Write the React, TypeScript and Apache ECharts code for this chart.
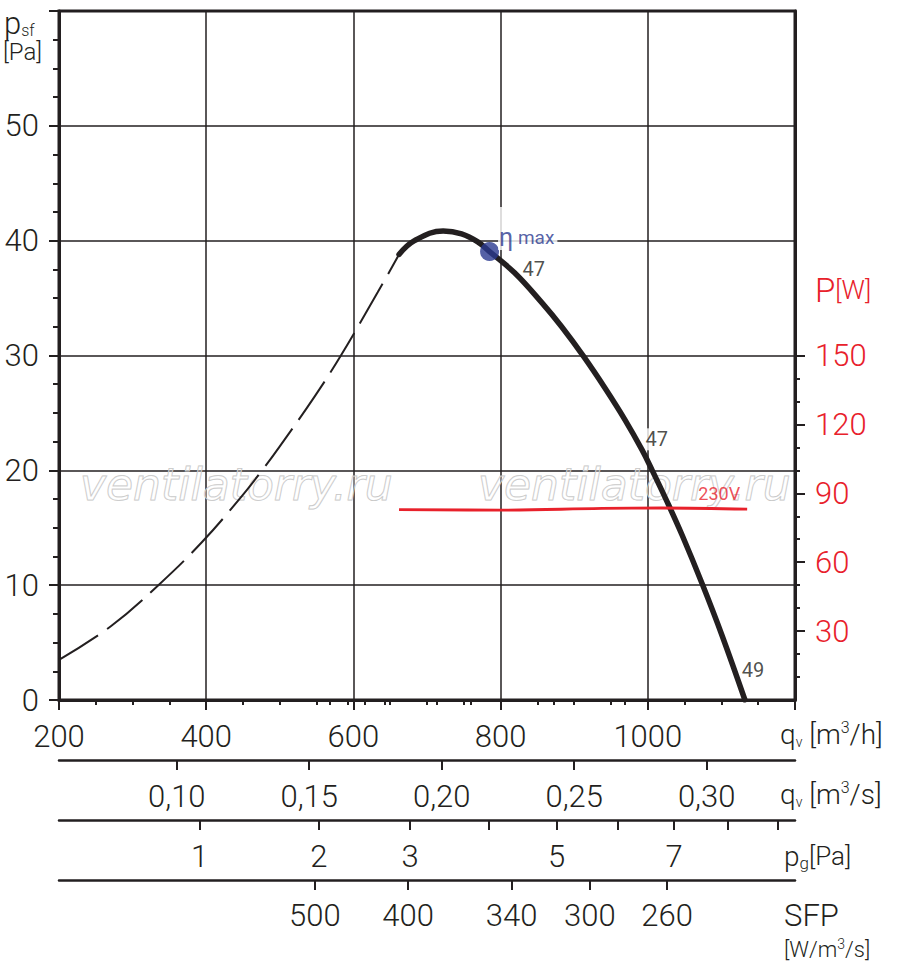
import React, { useEffect, useRef } from "react";
import * as echarts from "echarts";

const INK = "#231f20";
const RED = "#e8212b";
const BLUE = "#2b3990";
const FONT = "Roboto, 'DejaVu Sans', sans-serif";
const WEIGHT = 300;

// flow range of the chart, m3/h
const Q_MIN = 200;
const Q_MAX = 1200;

// static pressure curve, unstable part (dashed): [qv m3/h, psf Pa]
const unstableCurve = [
  [200, 3.5], [270, 6.4], [335, 10], [395, 13.8], [449, 17.8], [476, 20],
  [499, 22], [547, 26.4], [583, 30], [633, 35.5], [662, 38.8],
];
// static pressure curve, working part (solid)
const workingCurve = [
  [662, 38.8], [683, 40.0], [722, 40.85], [747, 40.6], [769, 39.9], [785, 39.05],
  [819, 37.2], [856, 34.6], [883, 32.5], [913, 29.9], [942, 27.15], [969, 24.4],
  [992, 21.8], [1006, 20.0], [1026, 17.3], [1047, 14.3], [1074, 10.1], [1101, 5.6],
  [1132, 0],
];
// input power at 230V: [qv m3/h, P W]
const powerCurve = [[662, 82.9], [801, 82.7], [938, 83.4], [1019, 83.6], [1135, 83.1]];
// max efficiency point
const etaMaxPoint = [785, 39.05];
// efficiency / noise labels along the curve
const curveLabels = [
  { q: 845, p: 37.5, text: "47" },
  { q: 1012, p: 22.7, text: "47" },
  { q: 1143, p: 2.6, text: "49" },
];
const voltageLabel = { q: 1097, P: 90, text: "230V" };

// axis labels / ticks
const qhLabels = [200, 400, 600, 800, 1000];
const psfLabels = [0, 10, 20, 30, 40, 50];
const powerLabels = [30, 60, 90, 120, 150];
const powerMinorTicks = [10, 20, 40, 50, 70, 80, 100, 110, 130, 140];
const qsLabels = [0.1, 0.15, 0.2, 0.25, 0.3];
const pgValues = [1, 2, 3, 4, 5, 6, 7, 8, 9];
const pgTickQ = [391, 553, 677, 783.5, 876, 959.4, 1035.7, 1108, 1176];
const pgLabelValues = [1, 2, 3, 5, 7];
const sfpMajor = [500, 400, 340, 300, 260];
const sfpMajorQ = [547.6, 674.4, 814.9, 921.2, 1026.2];
const sfpMinorQ = [568.1, 592.6, 615.8, 643.1, 712.6, 759, 872.2, 968.9];

const near = (a: number, b: number) => Math.abs(a - b) < 0.05;

function buildOption() {
  const tickStyle = { color: INK, width: 2 };
  const labelBase = { color: INK, fontSize: 31, fontFamily: FONT, fontWeight: WEIGHT, margin: 21 };
  const baseX: any = {
    type: "value",
    min: Q_MIN,
    max: Q_MAX,
    position: "bottom",
    splitLine: { show: false },
    axisLine: { show: true, onZero: false, lineStyle: { color: INK, width: 2.5 } },
  };
  const pgLabelQ = pgLabelValues.map((v) => pgTickQ[pgValues.indexOf(v)]);
  const txt = (size: number, fill: string, extra: any = {}) => ({
    fontSize: size,
    fontFamily: FONT,
    fontWeight: WEIGHT,
    fill,
    ...extra,
  });
  const watermark = (x: number) => ({
    type: "text",
    x,
    y: 484,
    z: 3,
    silent: true,
    style: {
      text: "ventilatorry.ru",
      fontSize: 44,
      fontStyle: "italic",
      fontFamily: "'DejaVu Sans', sans-serif",
      fill: "rgba(255,255,255,0.3)",
      stroke: "#c4c4c4",
      lineWidth: 1,
      verticalAlign: "middle",
      textVerticalAlign: "middle",
    },
  });
  const qvName = (y: number, unit: string) => ({
    type: "text",
    x: 780,
    y,
    z: 10,
    style: {
      text: `{q|q}{v|v}{t| [m}{s|3}{t|/${unit}]}`,
      verticalAlign: "middle",
      textVerticalAlign: "middle",
      rich: {
        q: txt(28, INK, { lineHeight: 30 }),
        v: txt(14, INK, { lineHeight: 14, verticalAlign: "bottom" }),
        t: txt(28, INK, { lineHeight: 30 }),
        s: txt(16, INK, { lineHeight: 16, verticalAlign: "top" }),
      },
    },
  });

  return {
    animation: false,
    backgroundColor: "#ffffff",
    grid: {
      left: 59,
      top: 11,
      right: 105,
      bottom: 270,
      show: true,
      borderColor: INK,
      borderWidth: 3,
      containLabel: false,
      outerBoundsMode: "none",
    },
    xAxis: [
      {
        ...baseX,
        interval: 200,
        axisLine: { show: true, onZero: false, lineStyle: { color: INK, width: 3 } },
        axisTick: { show: true, length: 10, lineStyle: tickStyle },
        minorTick: { show: true, splitNumber: 4, length: 5, lineStyle: tickStyle },
        splitLine: { show: true, lineStyle: { color: INK, width: 1.5 } },
        axisLabel: { ...labelBase, customValues: qhLabels, formatter: (v: number) => String(v) },
      },
      {
        ...baseX,
        offset: 60,
        axisTick: { show: true, length: 10, lineStyle: tickStyle, customValues: qsLabels.map((v) => v * 3600) },
        axisLabel: {
          ...labelBase,
          customValues: qsLabels.map((v) => v * 3600),
          formatter: (v: number) => (v / 3600).toFixed(2).replace(".", ","),
        },
      },
      {
        ...baseX,
        offset: 120,
        axisTick: { show: true, length: 10, lineStyle: tickStyle, customValues: pgTickQ },
        axisLabel: {
          ...labelBase,
          customValues: pgLabelQ,
          formatter: (v: number) => {
            const i = pgTickQ.findIndex((q) => near(q, v));
            return i >= 0 ? String(pgValues[i]) : "";
          },
        },
      },
      {
        ...baseX,
        offset: 180,
        axisTick: { show: true, length: 10, lineStyle: tickStyle, customValues: sfpMajorQ },
        axisLabel: {
          ...labelBase,
          margin: 20,
          customValues: sfpMajorQ,
          formatter: (v: number) => {
            const i = sfpMajorQ.findIndex((q) => near(q, v));
            return i >= 0 ? String(sfpMajor[i]) : "";
          },
        },
      },
      {
        ...baseX,
        offset: 180,
        axisLine: { show: false },
        axisTick: { show: true, length: 5, lineStyle: tickStyle, customValues: sfpMinorQ },
        axisLabel: { show: false },
      },
    ],
    yAxis: [
      {
        type: "value",
        min: 0,
        max: 60,
        interval: 10,
        position: "left",
        axisLine: { show: true, lineStyle: { color: INK, width: 3 } },
        axisTick: { show: true, length: 10, lineStyle: tickStyle },
        minorTick: { show: true, splitNumber: 4, length: 6, lineStyle: tickStyle },
        splitLine: { show: true, lineStyle: { color: INK, width: 1.5 } },
        axisLabel: { ...labelBase, margin: 20, customValues: psfLabels },
      },
      {
        type: "value",
        min: 0,
        max: 300,
        position: "right",
        axisLine: { show: true, lineStyle: { color: INK, width: 3 } },
        axisTick: { show: true, length: 10, lineStyle: tickStyle, customValues: powerLabels },
        splitLine: { show: false },
        axisLabel: { ...labelBase, color: RED, margin: 20, customValues: powerLabels },
      },
      {
        type: "value",
        min: 0,
        max: 300,
        position: "right",
        axisLine: { show: false },
        axisTick: { show: true, length: 5, lineStyle: tickStyle, customValues: powerMinorTicks },
        splitLine: { show: false },
        axisLabel: { show: false },
      },
    ],
    series: [
      {
        type: "line",
        name: "psf unstable",
        data: unstableCurve,
        smooth: 0.4,
        symbol: "none",
        lineStyle: { color: INK, width: 2, type: [46, 11] },
        z: 3,
      },
      {
        type: "scatter",
        name: "curve labels",
        data: curveLabels.map((d) => ({ value: [d.q, d.p], name: d.text })),
        symbolSize: 1,
        itemStyle: { color: "rgba(0,0,0,0)" },
        z: 2,
        label: {
          show: true,
          position: "inside",
          formatter: (p: any) => p.name,
          color: INK,
          fontSize: 20,
          fontFamily: FONT,
          fontWeight: 400,
          backgroundColor: "#ffffff",
          padding: [1, 1],
        },
      },
      {
        type: "line",
        name: "psf",
        data: workingCurve,
        smooth: 0.4,
        symbol: "none",
        lineStyle: { color: INK, width: 5.5, cap: "round" },
        z: 4,
      },
      {
        type: "line",
        name: "P",
        yAxisIndex: 1,
        data: powerCurve,
        smooth: 0.4,
        symbol: "none",
        lineStyle: { color: RED, width: 2.8 },
        z: 4,
      },
      {
        type: "scatter",
        name: "eta max",
        data: [etaMaxPoint],
        symbol: "circle",
        symbolSize: 19,
        itemStyle: { color: BLUE },
        z: 6,
        label: {
          show: true,
          position: [18, -35],
          align: "left",
          verticalAlign: "top",
          backgroundColor: "#ffffff",
          padding: [18, 3, 1, 1],
          formatter: "{eta|η}{max| max}",
          rich: {
            eta: { fontSize: 25, color: BLUE, fontFamily: FONT, lineHeight: 24 },
            max: { fontSize: 19, color: BLUE, fontFamily: FONT, lineHeight: 24 },
          },
        },
      },
      {
        type: "scatter",
        name: "voltage",
        yAxisIndex: 1,
        data: [{ value: [voltageLabel.q, voltageLabel.P], name: voltageLabel.text }],
        symbolSize: 1,
        itemStyle: { color: "rgba(0,0,0,0)" },
        z: 5,
        label: {
          show: true,
          position: "inside",
          formatter: (p: any) => p.name,
          color: RED,
          fontSize: 18,
          fontFamily: FONT,
        },
      },
    ],
    graphic: [
      watermark(80),
      watermark(478),
      // p_sf [Pa]
      {
        type: "text",
        x: 4,
        y: 8,
        z: 10,
        style: {
          text: "{p|p}{s|sf}",
          verticalAlign: "top",
          textVerticalAlign: "top",
          rich: {
            p: txt(31, INK, { lineHeight: 30 }),
            s: txt(16, INK, { lineHeight: 16, verticalAlign: "bottom" }),
          },
        },
      },
      {
        type: "text",
        x: 3,
        y: 40,
        z: 10,
        style: {
          text: "[Pa]",
          ...txt(24, INK),
          verticalAlign: "top",
          textVerticalAlign: "top",
        },
      },
      // P[W]
      {
        type: "text",
        x: 815,
        y: 290,
        z: 10,
        style: {
          text: "{P|P}{w|[W]}",
          verticalAlign: "middle",
          textVerticalAlign: "middle",
          rich: {
            P: txt(33, RED),
            w: txt(26, RED),
          },
        },
      },
      qvName(734, "h"),
      qvName(794, "s"),
      // p_g [Pa]
      {
        type: "text",
        x: 784,
        y: 856,
        z: 10,
        style: {
          text: "{p|p}{g|g}{t|[Pa]}",
          verticalAlign: "middle",
          textVerticalAlign: "middle",
          rich: {
            p: txt(28, INK, { lineHeight: 30 }),
            g: txt(17, INK, { lineHeight: 17, verticalAlign: "bottom" }),
            t: txt(26, INK, { lineHeight: 30 }),
          },
        },
      },
      // SFP [W/m3/s]
      {
        type: "text",
        x: 784,
        y: 915,
        z: 10,
        style: {
          text: "SFP",
          ...txt(31, INK),
          verticalAlign: "middle",
          textVerticalAlign: "middle",
        },
      },
      {
        type: "text",
        x: 784,
        y: 949,
        z: 10,
        style: {
          text: "{t|[W/m}{s|3}{t|/s]}",
          verticalAlign: "middle",
          textVerticalAlign: "middle",
          rich: {
            t: txt(22, INK, { lineHeight: 24 }),
            s: txt(14, INK, { lineHeight: 14, verticalAlign: "top" }),
          },
        },
      },
    ],
  };
}

export default function App() {
  const ref = useRef<HTMLDivElement>(null);
  useEffect(() => {
    document.body.style.margin = "0";
    const chart = echarts.init(ref.current as HTMLDivElement, null, { renderer: "svg" });
    chart.setOption(buildOption() as any);
    return () => chart.dispose();
  }, []);
  return <div ref={ref} style={{ width: 900, height: 970 }} />;
}
